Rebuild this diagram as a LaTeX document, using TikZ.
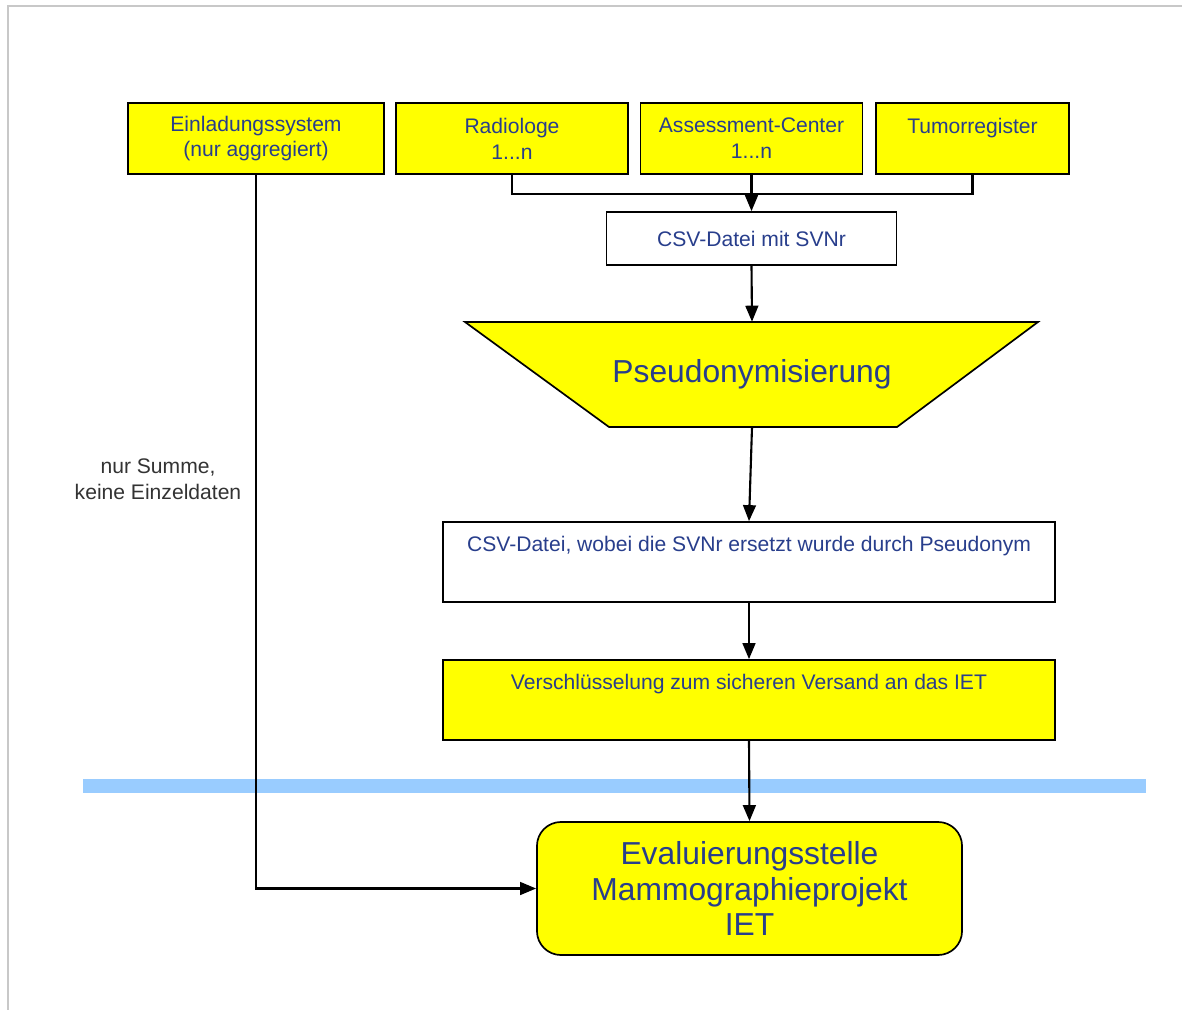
\documentclass[tikz,border=0pt]{standalone}
\usepackage{fontspec}
\setmainfont{Liberation Sans}
\usetikzlibrary{arrows.meta}
\definecolor{txtblue}{RGB}{40,62,140}
\definecolor{boxyellow}{RGB}{255,255,0}
\definecolor{bandblue}{RGB}{153,204,255}
\definecolor{framegray}{RGB}{200,200,200}

\begin{document}
\begin{tikzpicture}[x=0.025cm, y=-0.025cm,
  box/.style={draw, line width=1.2pt, fill=boxyellow, text=txtblue, align=center,
    font=\fontsize{15}{18.4}\selectfont, inner sep=0pt},
  plainbox/.style={box, fill=white},
  topbox/.style={box, minimum width=15.3cm, minimum height=2cm,
    text height=0.375cm, text depth=0.9cm},
  bigtext/.style={text=txtblue, align=center, font=\fontsize{22.6}{25.5}\selectfont},
  arrow/.style={line width=1.5pt, -{Triangle[length=0.4cm, width=0.32cm]}},
  link/.style={line width=1.5pt}]

\useasboundingbox (0,0) rectangle (1182,1010);
\draw[framegray, line width=1.2pt] (8,1010) -- (8,6) -- (1182,6);

% sources
\node (einl) at (256,138.5) [box, minimum width=6.4cm, minimum height=1.775cm] {Einladungssystem\\(nur aggregiert)};
\node (radio) at (512,138.5) [box, minimum width=5.8cm, minimum height=1.775cm] {Radiologe\\1...n};
\node (assess) at (751.5,138.5) [box, minimum width=5.55cm, minimum height=1.775cm] {Assessment-Center\\1...n};
\node (tumor) at (972.5,138.5) [box, minimum width=4.825cm, minimum height=1.775cm] {Tumorregister\\\phantom{1...n}};

\node (csv) at (751.5,238.5) [plainbox, minimum width=7.25cm, minimum height=1.325cm] {CSV-Datei mit SVNr};

% pseudonymisation
\filldraw[fill=boxyellow, line width=1.2pt] (465,322) -- (1038,322) -- (897,427) -- (609,427) -- cycle;
\node (pseudo) at (752,374.5) [bigtext, minimum width=7.2cm, minimum height=2.625cm, inner sep=0pt] {Pseudonymisierung};

\node (csvpseudo) at (749,562) [topbox, fill=white] {CSV-Datei, wobei die SVNr ersetzt wurde durch Pseudonym};
\node (crypt) at (749,700) [topbox] {Verschlüsselung zum sicheren Versand an das IET};

% border to the IET
\fill[bandblue] (83,779) rectangle (1146,793);

\node (iet) at (749.5,888.5) [box, bigtext, minimum width=10.625cm, minimum height=3.325cm, rounded corners=0.6cm] {Evaluierungsstelle\\Mammographieprojekt\\IET};

\node (note) at (158,479) [align=center, text=black!80, font=\fontsize{15}{18.4}\selectfont] {nur Summe,\\keine Einzeldaten};

% connectors
\draw[link] (radio.south) -- ++(0,19) -| (tumor.south);
\draw[arrow] (assess.south) -- (csv.north);
\draw[arrow] (csv.south) -- (pseudo.north);
\draw[arrow] (pseudo.south) -- (csvpseudo.north);
\draw[arrow] (csvpseudo.south) -- (crypt.north);
\draw[arrow] (crypt.south) -- (iet.north);
\draw[arrow] (einl.south) |- (iet.west);

\end{tikzpicture}
\end{document}
